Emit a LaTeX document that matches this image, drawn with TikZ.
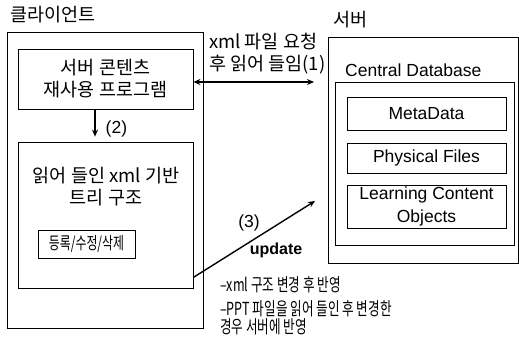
\documentclass[tikz,border=0pt]{standalone}
\usepackage{fontspec}
\setmainfont{Noto Sans CJK KR}
\newfontfamily\lat{Liberation Sans}
\newfontfamily\krn[FakeStretch=0.7]{Noto Sans CJK KR}
\usetikzlibrary{arrows.meta}
\tikzset{box/.style={draw,line width=0.8pt,inner sep=0pt},
  txt/.style={font=\fontsize{18.5}{22}\selectfont,align=center,inner sep=0pt},
  small/.style={font=\krn\fontsize{18}{18}\selectfont,align=left,inner sep=0pt},
  en/.style={font=\lat\fontsize{17.5}{23}\selectfont,align=center,inner sep=0pt},
  conn/.style={line width=1.4pt,-{Stealth[length=7pt,width=6pt]}}}
\begin{document}
\begin{tikzpicture}[x=1pt,y=-1pt]
  \useasboundingbox(0,0)rectangle(519,339);
  % client side
  \node[txt,anchor=west](cltitle)at(10,15){클라이언트};
  \node[box,minimum width=196pt,minimum height=296pt](client)at(105,180){};
  \node[box,txt,minimum width=175pt,minimum height=60pt](prog)at(105.5,79){서버 콘텐츠\\재사용 프로그램};
  \node[box,minimum width=175pt,minimum height=146pt](tree)at(105.5,215){};
  \node[txt](treelbl)at(106,187){읽어 들인 xml 기반\\트리 구조};
  \node[box,small,font=\krn\fontsize{17}{18}\selectfont,minimum width=97pt,minimum height=28pt,align=center](edit)at(86.5,244){등록/수정/삭제};
  \draw[conn,shorten >=5pt](prog.south-|95,0)--node[en,right=10pt,pos=0.6](n2){(2)}(tree.north-|95,0);
  % server side
  \node[txt,anchor=west](svtitle)at(333,20){서버};
  \node[box,minimum width=190pt,minimum height=226pt](server)at(423,150){};
  \node[en,anchor=west](dbtitle)at(345,70){Central Database};
  \node[box,minimum width=179pt,minimum height=163pt](db)at(424.5,163.5){};
  \node[box,en,minimum width=159pt,minimum height=33pt](meta)at(426.5,113.5){MetaData};
  \node[box,en,minimum width=159pt,minimum height=30pt](phys)at(426.5,158){Physical Files};
  \node[box,en,minimum width=159pt,minimum height=43pt](lco)at(426.5,206.5){Learning Content\\Objects};
  % connectors
  \coordinate(a1)at(314,82);
  \coordinate(a3)at(315,201);
  \draw[conn,{Stealth[length=7pt,width=6pt]}-{Stealth[length=7pt,width=6pt]}]([yshift=-3pt]prog.east)--(a1);
  \node[txt,align=left,anchor=west](n1)at(209,54){xml 파일 요청\\후 읽어 들임(1)};
  \draw[conn]([yshift=11pt]tree.south east)--(a3);
  \node[en](n3)at(249,223){(3)};
  \node[en,font=\lat\bfseries\fontsize{16}{20}\selectfont](upd)at(276,250){update};
  \node[small,anchor=west](note1)at(220,285){–xml 구조 변경 후 반영};
  \node[small,anchor=west](note2)at(220,318){–PPT 파일을 읽어 들인 후 변경한\\경우 서버에 반영};
\end{tikzpicture}
\end{document}
